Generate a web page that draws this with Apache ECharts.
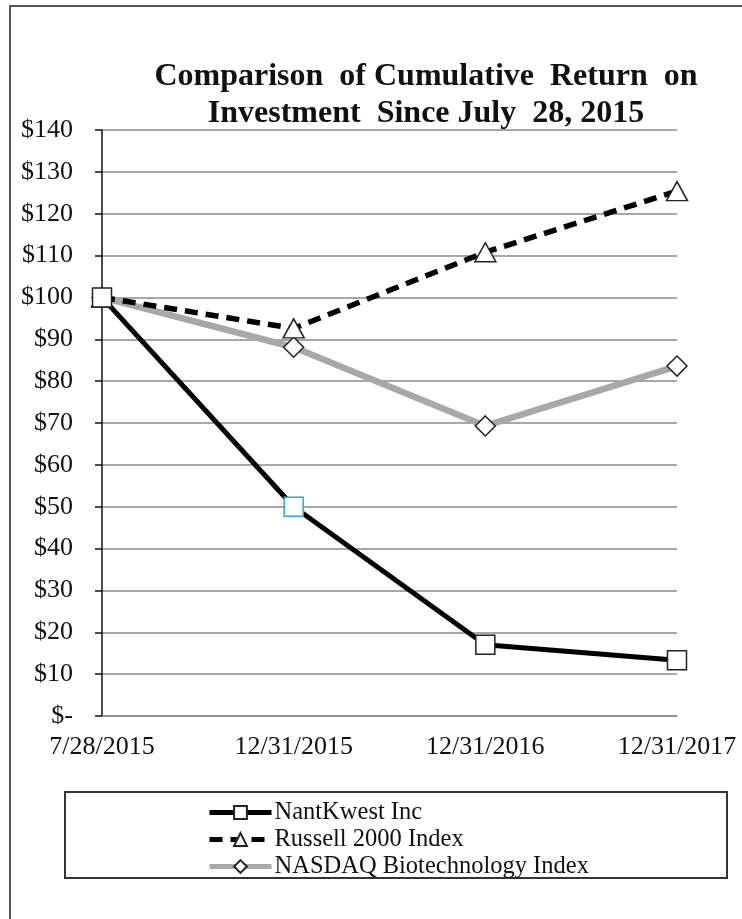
<!DOCTYPE html>
<html>
<head>
<meta charset="utf-8">
<script src="https://cdn.jsdelivr.net/npm/echarts@6/dist/echarts.min.js"></script>
<style>
html,body{margin:0;padding:0;background:#fff;}
#chart{width:742px;height:919px;}
</style>
</head>
<body>
<div id="chart"></div>
<script>
const categories = ['7/28/2015', '12/31/2015', '12/31/2016', '12/31/2017'];
const nantKwest = [100, 50, 17, 13.3];
const russell2000 = [100, 92.6, 110.8, 125.4];
const nasdaqBiotech = [100, 88.1, 69.3, 83.6];
const yTickLabels = ['$-', '$10', '$20', '$30', '$40', '$50', '$60', '$70', '$80', '$90', '$100', '$110', '$120', '$130', '$140'];
const seriesNames = ['NantKwest Inc', 'Russell 2000 Index', 'NASDAQ Biotechnology Index'];

const FONT = '"Liberation Serif", "Times New Roman", serif';
const chart = echarts.init(document.getElementById('chart'), null, {renderer: 'canvas'});

const nkData = nantKwest.map((v, i) => i === 1
  ? {value: v, itemStyle: {borderColor: '#2fa6cf'}}
  : v);

chart.setOption({
  backgroundColor: '#ffffff',
  animation: false,
  title: {
    text: 'Comparison  of Cumulative  Return  on\nInvestment  Since July  28, 2015',
    left: 426,
    top: 58,
    padding: 0,
    textAlign: 'center',
    textStyle: {
      fontFamily: FONT, fontWeight: 'bold', fontSize: 32, color: '#111', lineHeight: 37
    }
  },
  grid: {left: 102, right: 65, top: 130, bottom: 203, containLabel: false},
  xAxis: {
    type: 'category',
    data: categories,
    boundaryGap: false,
    axisLine: {lineStyle: {color: '#8a8a8a', width: 1.5}},
    axisTick: {show: false},
    axisLabel: {fontFamily: FONT, fontSize: 26, color: '#111', margin: 18}
  },
  yAxis: {
    type: 'value',
    min: 0, max: 140, interval: 10,
    axisLine: {show: true, lineStyle: {color: '#111', width: 1.5}},
    axisTick: {show: true, length: 7, lineStyle: {color: '#111', width: 1.5}},
    axisLabel: {
      fontFamily: FONT, fontSize: 26, color: '#111', margin: 29,
      formatter: v => yTickLabels[Math.round(v / 10)]
    },
    splitLine: {lineStyle: {color: '#8a8a8a', width: 1.5}}
  },
  legend: {
    orient: 'vertical',
    left: 207,
    top: 800,
    itemGap: 2,
    itemWidth: 62,
    itemHeight: 16,
    padding: 0,
    lineStyle: {width: 5},
    textStyle: {fontFamily: FONT, fontSize: 24.5, color: '#111', padding: [0, 0, 0, -2]},
    data: seriesNames
  },
  graphic: [
    {type: 'rect', shape: {x: 10, y: 6, width: 800, height: 1000}, style: {fill: 'none', stroke: '#222', lineWidth: 1.5}, silent: true, z: -10},
    {type: 'rect', shape: {x: 65, y: 792, width: 662, height: 86}, style: {fill: 'none', stroke: '#333', lineWidth: 2}, silent: true}
  ],
  series: [
    {
      name: seriesNames[2], type: 'line', data: nasdaqBiotech,
      symbol: 'diamond', symbolSize: [20, 20], z: 2,
      lineStyle: {color: '#a8a8a8', width: 6.5},
      itemStyle: {color: '#ffffff', borderColor: '#222', borderWidth: 1.5}
    },
    {
      name: seriesNames[1], type: 'line', data: russell2000,
      symbol: 'triangle', symbolSize: [21, 19], z: 3,
      lineStyle: {color: '#000', width: 5.5, type: [13, 8]},
      itemStyle: {color: '#ffffff', borderColor: '#222', borderWidth: 1.5}
    },
    {
      name: seriesNames[0], type: 'line', data: nkData,
      symbol: 'rect', symbolSize: 19, z: 4,
      lineStyle: {color: '#000', width: 5},
      itemStyle: {color: '#ffffff', borderColor: '#222', borderWidth: 1.5}
    }
  ]
});
</script>
</body>
</html>
